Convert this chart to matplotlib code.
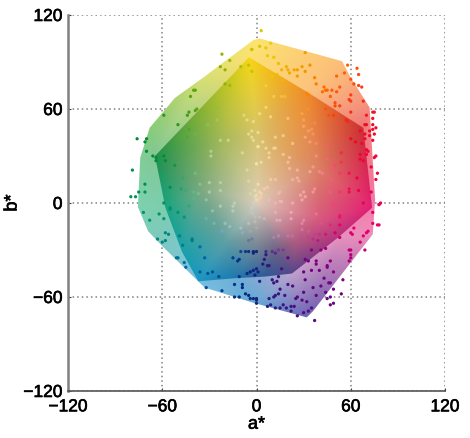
import numpy as np
import matplotlib
matplotlib.use("Agg")
import matplotlib.pyplot as plt
import matplotlib.patheffects as pe
from matplotlib.patches import Polygon
from matplotlib.tri import Triangulation, LinearTriInterpolator

plt.rcParams['font.family'] = ['Liberation Sans', 'DejaVu Sans']

TICKS = [-120, -60, 0, 60, 120]

# gamut outlines (a*, b*)
outer_a = [-2, 2, 54.5, 60, 72, 75.5, 74, 36, 32, -1, -33, -59.5, -69, -75.5, -74, -68, -52, -34]
outer_b = [104, 105, 90.5, 80, 61, 2, -20, -69, -73, -64, -54, -28, -18, -2.5, 29, 48, 67, 80]
outer_col = ['#FCE46E', '#FCE270', '#FCBE78', '#FAB07A', '#F58C7D', '#F578A5', '#F08CB9', '#7364B4', '#6E64B4',
             '#64AAD7', '#78BEE1', '#7DC8C3', '#7DCDB9', '#7DD2AF', '#82CD96', '#87CD78', '#AFD26E', '#D7E173']
inner_a = [-4.8, 32, 68, 73.6, 52, 22.6, 5, -13.7, -37, -47.5, -58, -64.6]
inner_b = [93, 71, 48, -3, -22, -45, -47, -48, -50, -31, -3, 30]
inner_col = ['#F5D714', '#F08C28', '#CD2D32', '#E41E73', '#B9327D', '#56468A', '#2F5A96', '#1E78AF', '#1996C3',
             '#19A0AA', '#19A582', '#1E914B']
ring_col = ['#FCE173', '#FCC37D', '#F07878', '#F57DAA', '#E691BE', '#C0A0CD', '#90A8D2', '#6EAFD7', '#78BEE1',
            '#7DC8CD', '#7DCDAF', '#82C896']
# shading inside the inner gamut
mid_a = [0, 0, 18, 38, 40, 25, 12, 0, -20, -35, -22]
mid_b = [0, 42, 35, 22, -10, -25, -30, -25, -25, 8, 40]
mid_col = ['#DCCDB9', '#D7C36E', '#E1A55F', '#DC8264', '#D75A7D', '#AF5A80', '#6E6487', '#828C96', '#5FA0A5',
           '#7DAA82', '#A5B95A']

# scattered samples
point_a = [-22,-17,-23,-20,-10,-3,-5,-3,-20,-17,-40,-39,-42,-38,-39,-43,-44,-59,-50,-43,-39,-44,-31,-25,-25,-8,-6,-2,
 -76,-70,-71,-70,-66,-64,-64,-59,-58,-52,-79,-44,-39,-47,-71,-55,-75,-71,-80,-77,-48,-45,-40,-37,-36,-30,-23,-23,-30,-32,-40,-43,-59,-55,
 -29,-29,-23,-18,-9,-6,0,1,-2,-5,-3,-14,
 3,-3,2,6,9,7,11,14,19,16,20,21,24,26,29,31,34,31,26,37,38,13,10,17,6,58,64,65,56,51,60,62,65,67,53,43,44,45,48,51,42,32,33,47,60,59,60,68,50,50,53,44,33,
 74,75,70,74,60,46,49,29,16,11,18,6,2,9,20,30,37,35,30,33,36,31,34,38,23,17,12,1,-3,4,1,6,11,12,8,8,17,21,20,21,26,23,26,27,0,3,9,12,7,5,2,14,15,0,3,8,12,15,16,23,29,28,31,30,36,37,47,53,59,59,65,73,68,78,79,64,59,53,48,45,50,48,54,54,45,42,40,36,34,38,
 57,58,60,63,66,69,70,74,74,76,72,69,75,69,72,74,67,70,71,66,70,76,75,66,68,73,77,76,
 -72,-68,-62,-59,-58,-56,-63,-58,-60,-51,-50,-46,-45,-55,-50,-46,-49,-47,-41,-41,-36,-33,-36,-31,-28,-24,-32,-22,-14,-9,-9,-14,-11,-7,-5,-2,0,0,-11,-6,-4,-2,-10,-7,-5,-2,-15,-12,-11,-27,-22,-24,-32,-28,-20,-17,-10,-9,-4,-5,-15,-15,-5,-3,-1,-23,
 -2,0,6,6,10,12,14,17,5,4,7,8,20,16,0,1,-1,2,10,11,13,14,20,23,15,18,14,12,11,8,0,-4,9,7,12,15,17,19,22,22,24,26,26,29,32,30,25,30,33,35,37,36,38,41,44,45,47,49,47,49,54,55,46,47,43,40,45,45,47,49,38,38,33,31,35,31,30,35,41,44,37,39,36,23,20,14,11,28,33,40,44,50,53,60,61,62,59,60,60,59,60,69,66,68,70,71,74,77,78,74,78,53,30,29,22,22,13,15,12,5,-1,0,-3,45,38,41,49,53,47,53,39,29,33,
 0,-1,1,-2,2,-3,0,3,-4,-2,2,-1,1,-5]
point_b = [95,91,87,85,87,98,88,84,76,75,72,72,68,60,59,58,56,56,50,47,44,42,50,61,53,56,53,52,
 41,41,39,33,30,29,27,30,27,24,21,21,19,16,12,10,7,7,4,4,9,8,7,6,12,13,13,8,7,2,3,-2,0,-3,
 33,30,40,40,32,21,25,36,40,44,46,0,
 110,98,100,99,102,94,93,89,87,85,85,83,85,85,87,96,88,84,81,80,76,82,81,78,75,88,86,82,83,81,79,76,75,74,74,74,72,72,72,71,71,70,69,68,69,66,65,65,64,62,62,60,60,
 58,58,56,54,58,56,56,57,68,68,68,61,57,55,54,53,51,47,49,46,44,42,39,38,38,43,42,45,42,39,36,35,35,35,32,29,31,29,26,22,21,15,16,14,25,26,15,15,10,9,7,6,7,5,4,2,0,1,1,0,2,5,4,7,7,9,7,7,7,9,8,7,0,-1,0,16,19,19,15,28,24,23,26,32,36,19,20,23,20,30,
 53,52,41,39,46,50,50,50,47,48,46,44,44,41,43,40,38,34,33,31,31,30,29,28,27,23,19,15,
 -6,-11,-7,-10,-19,-20,-23,-24,-25,-35,-35,-38,-41,-4,-6,-9,-21,-27,-23,-24,-28,-35,-44,-45,-44,-47,-54,-56,-52,-54,-52,-60,-60,-58,-59,-61,-64,-62,-47,-45,-44,-43,-31,-31,-31,-32,-35,-37,-36,-13,-18,-19,-10,-5,-13,-15,-16,-19,-18,-24,-5,-2,-13,-6,-9,-2,
 -31,-31,-31,-33,-31,-32,-30,-30,-36,-39,-40,-40,-35,-42,-42,-44,-46,-50,-49,-51,-50,-47,-52,-53,-55,-59,-58,-59,-60,-61,-61,-61,-65,-66,-67,-67,-65,-67,-69,-66,-66,-72,-60,-62,-63,-57,-61,-70,-69,-67,-75,-54,-59,-53,-57,-61,-60,-55,-65,-64,-58,-49,-51,-51,-48,-43,-40,-41,-37,-44,-37,-39,-37,-49,-43,-36,-44,-30,-30,-29,-20,-24,-23,-21,-21,-21,-22,-23,-22,-20,-20,-19,-22,-19,-20,-16,-30,-30,-33,-37,-35,-30,-25,-21,-19,-18,-13,-14,-14,-6,-1,-8,-11,-13,-6,-10,-11,-11,-6,-10,-12,-16,-23,-8,-7,-13,-1,-9,-14,-14,-16,-17,-18,
 2,4,1,0,3,-3,-4,6,6,-7,-9,8,12,14]

HUE_DEG = [-135, -100, -75, -45, -15, 5, 35, 60, 85, 110, 150, 190, 225]
HUE_R = [0, 0, 60, 120, 230, 235, 240, 255, 235, 120, 0, 0, 0]
HUE_G = [100, 45, 20, 0, 0, 0, 10, 110, 205, 170, 140, 150, 100]
HUE_B = [170, 125, 125, 125, 110, 80, 40, 0, 0, 0, 50, 110, 170]
FADE_DEG = [-180, -90, 0, 90, 180]
FADE_START = [25, 14, 30, 55, 25]
FADE_WIDTH = [25, 16, 30, 30, 25]


def rgb(cols):
    return np.array([matplotlib.colors.to_rgb(c) for c in cols])


def shade(vx, vy, colours, X, Y):
    vx = np.asarray(vx, float)
    vy = np.asarray(vy, float)
    tri = Triangulation(vx, vy)
    out = []
    d2 = (X[..., None] - vx) ** 2 + (Y[..., None] - vy) ** 2 + 0.5
    w = d2 ** -2.0
    for i in range(3):
        vals = LinearTriInterpolator(tri, colours[:, i])(X, Y)
        fallback = (w * colours[:, i]).sum(-1) / w.sum(-1)
        out.append(np.where(np.ma.getmaskarray(vals), fallback, np.ma.getdata(vals)))
    return np.clip(np.dstack(out), 0, 1)


def point_colour(a, b):
    r = np.hypot(a, b)
    deg = np.degrees(np.arctan2(b, a))
    ang = np.where(deg < -135, deg + 360, deg)
    hue = np.stack([np.interp(ang, HUE_DEG, c) for c in (HUE_R, HUE_G, HUE_B)], axis=1) / 255
    t = np.clip((r - np.interp(deg, FADE_DEG, FADE_START)) / np.interp(deg, FADE_DEG, FADE_WIDTH), 0, 1)[:, None]
    pale = 0.75 * np.array([1.0, 0.96, 0.88]) + 0.25 * hue
    col = pale * (1 - t) + hue * t
    alpha = 0.65 + 0.35 * t
    return np.hstack([col, alpha])


fig = plt.figure(figsize=(4.7, 4.38), dpi=100, facecolor='white')
ax = fig.add_axes([68 / 470, (438 - 391) / 438, 377 / 470, 376 / 438])

ax.grid(True, ls=(0, (1, 2)), color='#808080', lw=1.1, zorder=0)
ax.set_axisbelow(True)

xs = np.linspace(-85, 85, 511)
ys = np.linspace(-85, 115, 601)
X, Y = np.meshgrid(xs, ys)
extent = [xs[0], xs[-1], ys[0], ys[-1]]

inner_img = shade(np.r_[mid_a, inner_a], np.r_[mid_b, inner_b], np.vstack([rgb(mid_col), rgb(inner_col)]), X, Y)
outer_img = shade(np.r_[outer_a, inner_a], np.r_[outer_b, inner_b], np.vstack([rgb(outer_col), rgb(ring_col)]), X, Y)

for img, pa, pb, z in ((outer_img, outer_a, outer_b, 1), (inner_img, inner_a, inner_b, 2)):
    poly = Polygon(np.column_stack([pa, pb]), closed=True, transform=ax.transData, fc='none', ec='none')
    ax.add_patch(poly)
    im = ax.imshow(img, origin='lower', extent=extent, aspect='auto', interpolation='bilinear', zorder=z)
    im.set_clip_path(poly)
ax.set_xlim(-120, 120)
ax.set_ylim(-120, 120)

pa = np.array(point_a, float)
pb = np.array(point_b, float)
ax.scatter(pa, pb, s=5.5, c=point_colour(pa, pb), linewidths=0, zorder=3)

ax.set_xticks(TICKS)
ax.set_yticks(TICKS)
ax.tick_params(direction='in', length=2, width=0.8, color='#444444', labelsize=12.5)
ax.tick_params(axis='x', pad=6)
ax.tick_params(axis='y', pad=4)
for s in ('top', 'right'):
    ax.spines[s].set_visible(False)
ax.spines['left'].set_color('#808080')
ax.spines['left'].set_linewidth(1.8)
ax.spines['bottom'].set_color('#555555')
ax.spines['bottom'].set_linewidth(1.2)
ax.set_xlabel('a*', fontsize=13, labelpad=1)
ax.set_ylabel('b*', fontsize=13, labelpad=2)
thick = [pe.withStroke(linewidth=0.45, foreground='black')]
for lab in ax.get_xticklabels() + ax.get_yticklabels() + [ax.xaxis.label, ax.yaxis.label]:
    lab.set_path_effects(thick)
fig.savefig('out.png', dpi=100, facecolor='white')
